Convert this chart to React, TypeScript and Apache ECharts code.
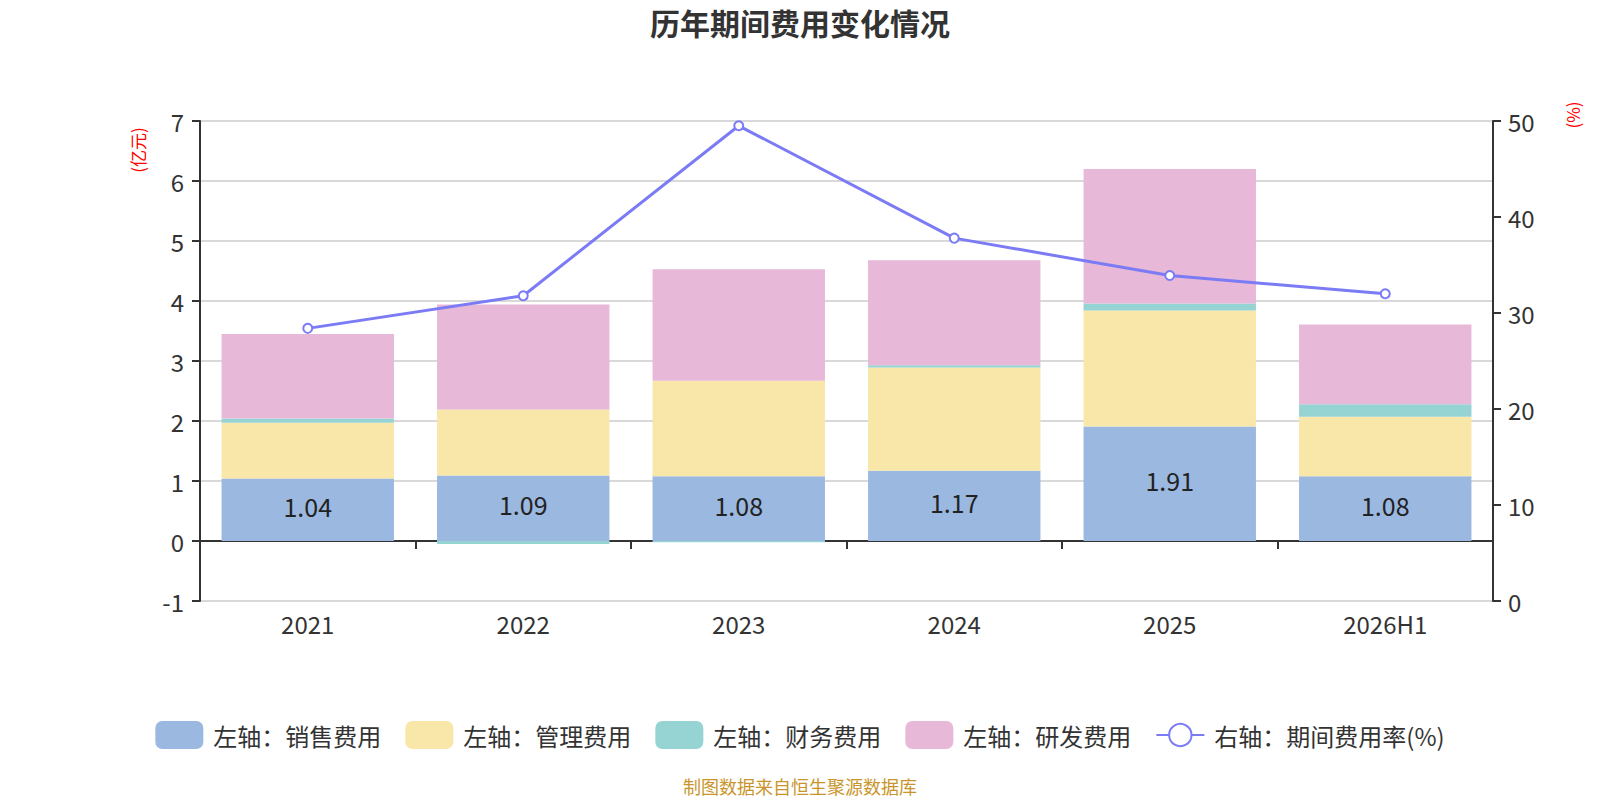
import React, { useEffect, useRef } from 'react';
import * as echarts from 'echarts';

const categories = ['2021', '2022', '2023', '2024', '2025', '2026H1'];
const salesExpense = [1.04, 1.09, 1.08, 1.17, 1.91, 1.08];
const adminExpense = [0.93, 1.1, 1.59, 1.72, 1.93, 0.99];
const financeExpense = [0.07, -0.05, -0.02, 0.04, 0.12, 0.21];
const rdExpense = [1.41, 1.75, 1.86, 1.75, 2.24, 1.33];
const expenseRate = [28.4, 31.8, 49.5, 37.8, 33.9, 32.0];

const FONT = '"Noto Sans CJK SC", "Noto Sans", sans-serif';

const App: React.FC = () => {
  const chartRef = useRef<HTMLDivElement>(null);

  useEffect(() => {
    const chart = echarts.init(chartRef.current, null, { renderer: 'svg' });

    const barSeries = (name: string, data: number[], color: string, showLabel = false) => ({
      name,
      type: 'bar',
      stack: 'total',
      data,
      xAxisIndex: 0,
      yAxisIndex: 0,
      barCategoryGap: '20%',
      itemStyle: { color },
      label: {
        show: showLabel,
        position: 'inside',
        offset: [0, -4],
        fontSize: 25,
        color: '#222',
        fontFamily: FONT,
      },
    });

    const option = {
      animation: false,
      textStyle: { fontFamily: FONT },
      title: {
        text: '历年期间费用变化情况',
        left: 'center',
        top: 2,
        textStyle: { fontSize: 30, fontWeight: 'bold', color: '#333', fontFamily: FONT },
      },
      legend: {
        left: 'center',
        top: 716,
        itemWidth: 48,
        itemHeight: 28,
        itemGap: 24,
        textStyle: { fontSize: 24, color: '#333', fontFamily: FONT, padding: [0, 0, 0, 5] },
        data: [
          { name: '左轴：销售费用', icon: 'roundRect' },
          { name: '左轴：管理费用', icon: 'roundRect' },
          { name: '左轴：财务费用', icon: 'roundRect' },
          { name: '左轴：研发费用', icon: 'roundRect' },
          { name: '右轴：期间费用率(%)' },
        ],
      },
      grid: { left: 200, right: 107, top: 121, bottom: 199 },
      xAxis: [
        {
          type: 'category',
          data: categories,
          position: 'bottom',
          axisLine: { show: false, onZero: false },
          axisTick: { show: false },
          axisLabel: { fontSize: 24, color: '#333', margin: 10 },
        },
        {
          type: 'category',
          data: categories,
          position: 'bottom',
          axisLine: { show: true, onZero: true, lineStyle: { color: '#333', width: 2 } },
          axisTick: { show: true, length: 8, lineStyle: { color: '#333', width: 2 } },
          axisLabel: { show: false },
        },
      ],
      yAxis: [
        {
          type: 'value',
          min: -1,
          max: 7,
          interval: 1,
          axisLine: { show: true, lineStyle: { color: '#333', width: 2 } },
          axisTick: { show: true, length: 8, lineStyle: { color: '#333', width: 2 } },
          axisLabel: { fontSize: 24, color: '#333', margin: 16 },
          splitLine: { show: true, lineStyle: { color: '#ccc', width: 1.5 } },
        },
        {
          type: 'value',
          min: 0,
          max: 50,
          interval: 10,
          position: 'right',
          axisLine: { show: true, lineStyle: { color: '#333', width: 2 } },
          axisTick: { show: true, length: 8, lineStyle: { color: '#333', width: 2 } },
          axisLabel: { fontSize: 24, color: '#333', margin: 15 },
          splitLine: { show: false },
        },
      ],
      graphic: [
        {
          type: 'text',
          x: 137,
          y: 150,
          rotation: Math.PI / 2,
          style: {
            text: '(亿元)',
            fontSize: 17,
            fill: '#ff0000',
            fontFamily: FONT,
            align: 'center',
            verticalAlign: 'middle',
          },
        },
        {
          type: 'text',
          x: 1572,
          y: 115,
          rotation: Math.PI / 2,
          style: {
            text: '(%)',
            fontSize: 17,
            fill: '#ff0000',
            fontFamily: FONT,
            align: 'center',
            verticalAlign: 'middle',
          },
        },
        {
          type: 'text',
          x: 800,
          y: 786,
          style: {
            text: '制图数据来自恒生聚源数据库',
            fontSize: 18,
            fill: '#c9952b',
            fontFamily: FONT,
            align: 'center',
            verticalAlign: 'middle',
          },
        },
      ],
      series: [
        barSeries('左轴：销售费用', salesExpense, '#9bb8e0', true),
        barSeries('左轴：管理费用', adminExpense, '#f8e7a8'),
        barSeries('左轴：财务费用', financeExpense, '#96d3d3'),
        barSeries('左轴：研发费用', rdExpense, '#e7b8d8'),
        {
          name: '右轴：期间费用率(%)',
          type: 'line',
          data: expenseRate,
          xAxisIndex: 0,
          yAxisIndex: 1,
          symbol: 'emptyCircle',
          symbolSize: 9,
          lineStyle: { color: '#7b7bf5', width: 3 },
          itemStyle: { color: '#7b7bf5', borderWidth: 2 },
          z: 5,
        },
      ],
    };

    chart.setOption(option);

    return () => {
      chart.dispose();
    };
  }, []);

  return (
    <div
      ref={chartRef}
      style={{ position: 'fixed', left: 0, top: 0, width: 1600, height: 800, background: '#fff' }}
    />
  );
};

export default App;
